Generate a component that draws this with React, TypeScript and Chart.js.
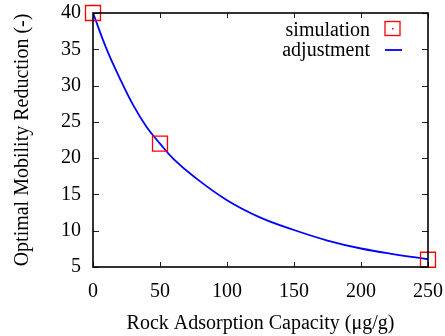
import React, { useEffect, useRef } from 'react';
import { Chart, registerables } from 'chart.js';

Chart.register(...registerables);

const simX = [0, 50, 250];
const simY = [40, 22, 6];
const fitX = [0, 10, 20, 30, 40, 50, 60, 75, 100, 125, 150, 175, 200, 225, 250];
const fitY = [40, 35.1, 31.0, 27.3, 24.3, 22.0, 19.9, 17.5, 14.2, 11.8, 10.1, 8.65, 7.55, 6.75, 6.07];
const seriesLabels = ['simulation', 'adjustment'];
const xTitle = 'Rock Adsorption Capacity (\u03bcg/g)';
const yTitle = 'Optimal Mobility Reduction (-)';

const FONT = "'Liberation Serif', 'Times New Roman', serif";

export default function App() {
  const ref = useRef<HTMLCanvasElement>(null);

  useEffect(() => {
    if (!ref.current) return;

    const framePlugin = {
      id: 'framePlugin',
      afterDraw(chart: any) {
        const { ctx, chartArea } = chart;
        const { left, right, top, bottom } = chartArea;
        const xs = chart.scales.x;
        const ys = chart.scales.y;
        ctx.save();
        // inward ticks
        ctx.strokeStyle = '#222';
        ctx.lineWidth = 1;
        ctx.beginPath();
        xs.ticks.forEach((t: any) => {
          const px = Math.round(xs.getPixelForValue(t.value)) + 0.5;
          ctx.moveTo(px, bottom);
          ctx.lineTo(px, bottom - 5);
          ctx.moveTo(px, top);
          ctx.lineTo(px, top + 5);
        });
        ys.ticks.forEach((t: any) => {
          const py = Math.round(ys.getPixelForValue(t.value)) + 0.5;
          ctx.moveTo(left, py);
          ctx.lineTo(left + 6, py);
          ctx.moveTo(right, py);
          ctx.lineTo(right - 6, py);
        });
        ctx.stroke();
        // border
        ctx.strokeStyle = '#000';
        ctx.lineWidth = 1.6;
        ctx.strokeRect(left, top, right - left, bottom - top);

        // legend
        const ds = chart.data.datasets;
        ctx.font = `20px ${FONT}`;
        ctx.fillStyle = '#000';
        ctx.textAlign = 'right';
        ctx.textBaseline = 'alphabetic';
        const tx = right - 58;
        ctx.fillText(ds[0].label, tx, top + 23);
        ctx.fillText(ds[1].label, tx, top + 43);
        // simulation sample
        ctx.strokeStyle = '#ff0000';
        ctx.lineWidth = 1.3;
        ctx.strokeRect(right - 43, top + 8.5, 15, 14);
        ctx.fillStyle = '#ff0000';
        ctx.fillRect(right - 36, top + 15, 1.5, 1.5);
        // adjustment sample
        ctx.strokeStyle = '#0000ff';
        ctx.lineWidth = 1.8;
        ctx.beginPath();
        ctx.moveTo(right - 43, top + 37);
        ctx.lineTo(right - 26, top + 37);
        ctx.stroke();
        ctx.restore();
      },
    };

    const zeroPad = (s: any) => {
      s.paddingTop = 0;
      s.paddingBottom = 0;
      s.paddingLeft = 0;
      s.paddingRight = 0;
    };

    const chart = new Chart(ref.current, {
      type: 'line',
      data: {
        datasets: [
          {
            label: seriesLabels[0],
            data: simX.map((x, i) => ({ x, y: simY[i] })),
            showLine: false,
            pointStyle: 'rect',
            pointRadius: 10.6,
            pointBorderColor: '#ff0000',
            pointBackgroundColor: 'rgba(0,0,0,0)',
            pointBorderWidth: 1.3,
            borderColor: '#ff0000',
            clip: false as any,
            order: 0,
          },
          {
            label: seriesLabels[1],
            data: fitX.map((x, i) => ({ x, y: fitY[i] })),
            borderColor: '#0000ff',
            borderWidth: 1.8,
            pointRadius: 0,
            tension: 0.4,
            fill: false,
            order: 1,
          },
        ],
      },
      options: {
        animation: false,
        responsive: false,
        layout: { padding: { left: 0, top: 13, right: 17, bottom: 0 } },
        plugins: {
          legend: { display: false },
          tooltip: { enabled: false },
        },
        scales: {
          x: {
            type: 'linear',
            min: 0,
            max: 250,
            grid: { display: false, drawTicks: false },
            border: { display: false },
            ticks: {
              stepSize: 50,
              color: '#000',
              padding: 13,
              font: { family: FONT, size: 20 },
              maxRotation: 0,
            },
            title: {
              display: true,
              text: xTitle,
              color: '#000',
              font: { family: FONT, size: 20 },
              padding: { top: 0, bottom: 0 },
            },
            afterFit: (s: any) => {
              s.height = 69;
              zeroPad(s);
            },
          },
          y: {
            type: 'linear',
            min: 5,
            max: 40,
            grid: { display: false, drawTicks: false },
            border: { display: false },
            ticks: {
              stepSize: 5,
              color: '#000',
              padding: 12,
              font: { family: FONT, size: 20 },
            },
            title: {
              display: true,
              text: yTitle,
              color: '#000',
              font: { family: FONT, size: 20 },
              padding: { top: 11, bottom: 0 },
            },
            afterFit: (s: any) => {
              s.width = 93;
              zeroPad(s);
            },
          },
        },
      },
      plugins: [framePlugin],
    });

    return () => chart.destroy();
  }, []);

  return (
    <div style={{ position: 'fixed', left: 0, top: 0, width: 445, height: 336, background: '#fff' }}>
      <canvas ref={ref} width={445} height={336} />
    </div>
  );
}
